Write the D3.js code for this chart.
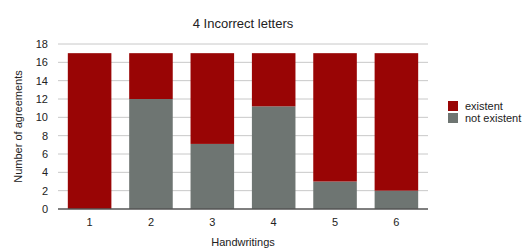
<!DOCTYPE html>
<html>
<head>
<meta charset="utf-8">
<script src="https://cdn.jsdelivr.net/npm/d3@7"></script>
<style>
  body { margin: 0; background: #fff; }
  text { font-family: "Liberation Sans", Arial, sans-serif; fill: #222; }
</style>
</head>
<body>
<div id="chart"></div>
<script>
// DATA //
const handwritings = ["1", "2", "3", "4", "5", "6"];
const notExistent = [0, 12, 7.1, 11.2, 3, 2];
const existent = [17, 5, 9.9, 5.8, 14, 15];
const yTicks = [0, 2, 4, 6, 8, 10, 12, 14, 16, 18];
const seriesNames = ["existent", "not existent"];
const colors = { existent: "#990505", "not existent": "#6e7572" };

// DIMENSIONS //
const width = 531;
const height = 250;
const margin = { top: 44, left: 58, right: 103, bottom: 41 };

const svg = d3
  .select("#chart")
  .append("svg")
  .attr("width", width)
  .attr("height", height);

const x = d3
  .scaleBand()
  .domain(handwritings)
  .range([margin.left, width - margin.right])
  .paddingInner(0.29)
  .paddingOuter(0.16);

const y = d3
  .scaleLinear()
  .domain([0, 18])
  .range([height - margin.bottom, margin.top]);

// Gridlines
svg
  .append("g")
  .selectAll("line")
  .data(yTicks.filter((t) => t > 0))
  .join("line")
  .attr("x1", margin.left)
  .attr("x2", width - margin.right)
  .attr("y1", (d) => y(d))
  .attr("y2", (d) => y(d))
  .attr("stroke", "#c8c8c8")
  .attr("stroke-width", 1);

// Stacked bars
const rows = handwritings.map((h, i) => ({
  h,
  "not existent": notExistent[i],
  existent: existent[i],
}));
const stack = d3.stack().keys(["not existent", "existent"])(rows);

svg
  .append("g")
  .selectAll("g")
  .data(stack)
  .join("g")
  .attr("fill", (s) => colors[s.key])
  .selectAll("rect")
  .data((s) => s)
  .join("rect")
  .attr("x", (d) => x(d.data.h))
  .attr("width", x.bandwidth())
  .attr("y", (d) => y(d[1]))
  .attr("height", (d) => y(d[0]) - y(d[1]));

// Y axis
const yAxis = svg
  .append("g")
  .attr("transform", `translate(${margin.left - 10},0)`)
  .call(d3.axisLeft(y).tickValues(yTicks).tickSize(0).tickPadding(0));
yAxis.select(".domain").remove();
yAxis.selectAll("text").attr("font-size", 11).attr("fill", "#222").attr("font-family", "Liberation Sans, Arial, sans-serif");

// X axis
const xAxis = svg
  .append("g")
  .attr("transform", `translate(0,${y(0)})`)
  .call(d3.axisBottom(x).tickSize(0).tickPadding(9));
xAxis.select(".domain").attr("stroke", "#555").attr("stroke-width", 1.5)
  .attr("d", `M${margin.left},0H${width - margin.right}`);
xAxis.selectAll("text").attr("font-size", 11).attr("fill", "#222").attr("font-family", "Liberation Sans, Arial, sans-serif");

// Title and axis labels
svg
  .append("text")
  .attr("x", (margin.left + width - margin.right) / 2)
  .attr("y", 28)
  .attr("text-anchor", "middle")
  .attr("font-size", 13)
  .text("4 Incorrect letters");

svg
  .append("text")
  .attr("x", (margin.left + width - margin.right) / 2)
  .attr("y", 246)
  .attr("text-anchor", "middle")
  .attr("font-size", 11)
  .text("Handwritings");

svg
  .append("text")
  .attr("transform", `translate(22,${(margin.top + height - margin.bottom) / 2}) rotate(-90)`)
  .attr("text-anchor", "middle")
  .attr("font-size", 11)
  .text("Number of agreements");

// Legend
const legend = svg
  .append("g")
  .selectAll("g")
  .data(seriesNames)
  .join("g")
  .attr("transform", (d, i) => `translate(448,${101 + i * 12})`);
legend
  .append("rect")
  .attr("width", 10)
  .attr("height", 10)
  .attr("fill", (d) => colors[d]);
legend
  .append("text")
  .attr("x", 17)
  .attr("y", 9)
  .attr("font-size", 11)
  .text((d) => d);
</script>
</body>
</html>
